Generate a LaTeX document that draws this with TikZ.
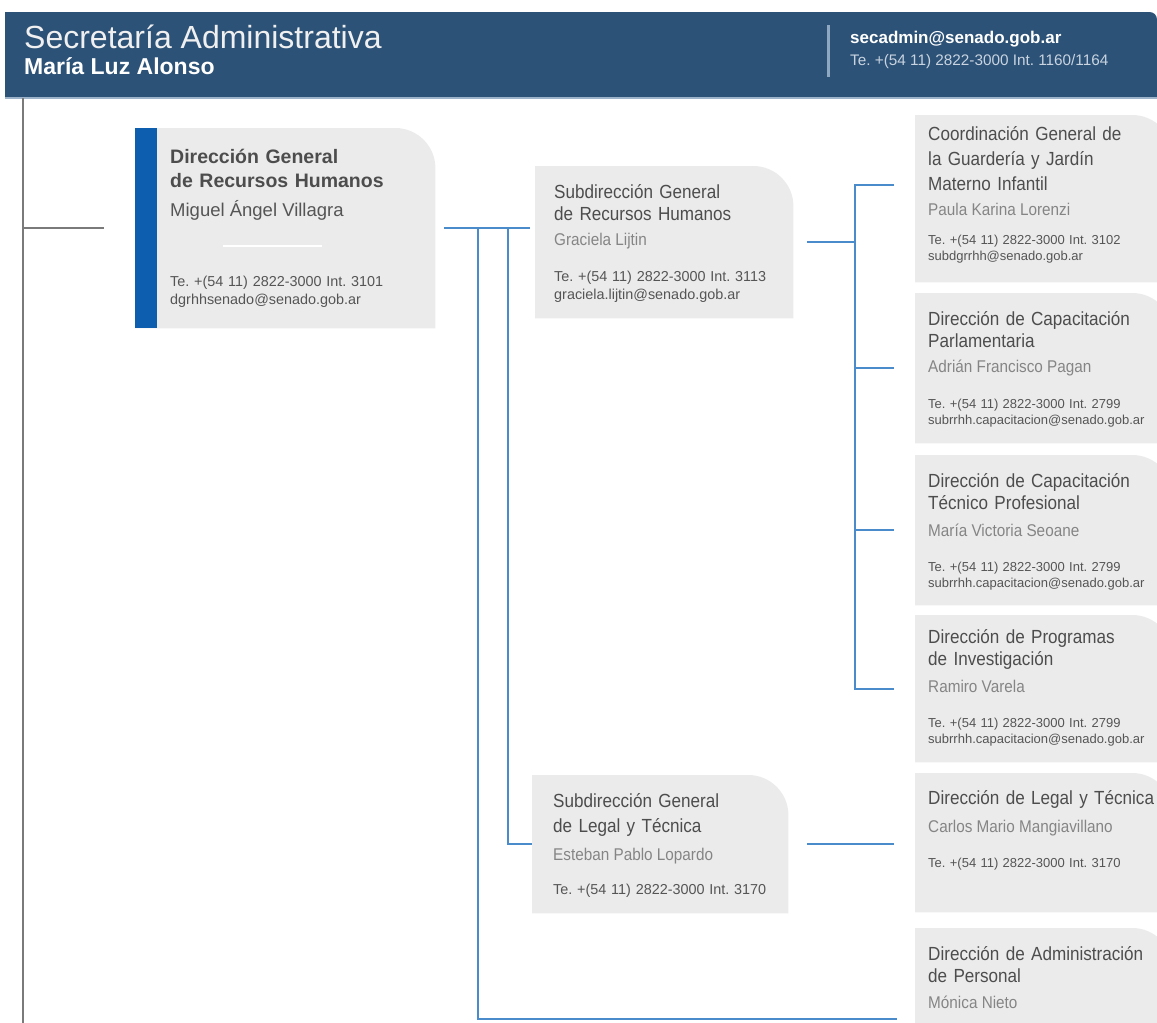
\documentclass[tikz,border=0pt]{standalone}
\usepackage{fontspec}
\setmainfont{Liberation Sans}
\newfontfamily\narrowfont[FakeStretch=0.9]{Liberation Sans}
\frenchspacing
\usetikzlibrary{backgrounds}
\definecolor{headblue}{HTML}{2D5277}
\definecolor{headline}{HTML}{9DB3CA}
\definecolor{headtext}{HTML}{C9D4E0}
\definecolor{sepline}{HTML}{8FA8C2}
\definecolor{cardgray}{HTML}{EBEBEB}
\definecolor{linkblue}{HTML}{4A8CCB}
\definecolor{barblue}{HTML}{0D5EAF}
\definecolor{titlegray}{HTML}{4D4D4D}
\definecolor{namegray}{HTML}{858585}
\definecolor{infogray}{HTML}{555555}
\definecolor{treegray}{HTML}{7A7A7A}
\tikzset{%
    card/.style={rectangle,inner sep=0pt,anchor=north west},
    ttl/.style={anchor=base west,inner sep=0pt,text width=250pt,align=left,text=titlegray,font=\narrowfont\fontsize{19}{22}\selectfont},
    pname/.style={anchor=base west,inner sep=0pt,text=namegray,font=\narrowfont\fontsize{17}{20}\selectfont},
    info/.style={anchor=base west,inner sep=0pt,text width=300pt,align=left,text=infogray,font=\fontsize{14.4}{18}\selectfont},
    infosm/.style={info,font=\fontsize{13}{16}\selectfont},
    head/.style={anchor=base west,inner sep=0pt,text=white},
    link/.style={draw=linkblue,line width=2pt},
    tree/.style={draw=treegray,line width=1.5pt}
}

\begin{document}
\begin{tikzpicture}[x=1pt,y=-1pt]
    \useasboundingbox (0,0) rectangle (1157,1023);

    % header
    \fill[headblue] (5,98) -- (5,12) -- (1149,12) .. controls (1154,12) and (1157,15) .. (1157,20) -- (1157,98) -- cycle;
    \fill[headline] (5,96.5) rectangle (1157,99);
    \draw[sepline,line width=3pt] (828,25) -- (828,77);
    \node[head,text=white!94!black,font=\fontsize{32}{32}\selectfont] (sec) at (24,48) {Secretaría Administrativa};
    \node[head,font=\bfseries\fontsize{23}{23}\selectfont] (secboss) at (24,74) {María Luz Alonso};
    \node[head,font=\bfseries\fontsize{17}{17}\selectfont] (secmail) at (850,43) {secadmin@senado.gob.ar};
    \node[head,text=headtext,font=\fontsize{15.3}{15.3}\selectfont] (sectel) at (850,65) {Te. +(54 11) 2822-3000 Int. 1160/1164};

    % cards
    \node[card,minimum width=300pt,minimum height=200pt] (dgrh) at (135,128){};
    \node[card,minimum width=258pt,minimum height=152pt] (subrh) at (535,166){};
    \node[card,minimum width=256pt,minimum height=138pt] (sublegal) at (532,775){};
    \node[card,minimum width=257pt,minimum height=167pt] (guarderia) at (915,115){};
    \node[card,minimum width=257pt,minimum height=150pt] (capparl) at (915,293){};
    \node[card,minimum width=257pt,minimum height=150pt] (captec) at (915,455){};
    \node[card,minimum width=257pt,minimum height=147pt] (investig) at (915,615){};
    \node[card,minimum width=257pt,minimum height=139pt] (legal) at (915,773){};
    \node[card,minimum width=257pt,minimum height=182pt] (personal) at (915,928){};

    \begin{scope}[on background layer]
        \foreach \c in {dgrh,subrh,sublegal,guarderia,capparl,captec,investig,legal,personal}
            \fill[cardgray] (\c.south west) -- (\c.north west) -- ([xshift=-40pt]\c.north east) .. controls ([xshift=-18pt]\c.north east) and ([yshift=-18pt]\c.north east) .. ([yshift=-40pt]\c.north east) -- (\c.south east) -- cycle;
        \fill[barblue] (dgrh.north west) rectangle ([xshift=22pt]dgrh.south west);
    \end{scope}

    % texts
    \node[ttl,font=\bfseries\fontsize{19.5}{24}\selectfont] (dgrht) at (170,163) {Dirección General\\ de Recursos Humanos};
    \node[pname,text=infogray,font=\fontsize{18.5}{20}\selectfont] (dgrhn) at (170,216) {Miguel Ángel Villagra};
    \draw[white,line width=2.5pt] (223,246) -- (322,246);
    \node[info] (dgrhi) at (170,286) {Te. +(54 11) 2822-3000 Int. 3101\\ dgrhhsenado@senado.gob.ar};

    \node[ttl] (subrht) at (554,198) {Subdirección General\\ de Recursos Humanos};
    \node[pname] (subrhn) at (554,245) {Graciela Lijtin};
    \node[info] (subrhi) at (554,281) {Te. +(54 11) 2822-3000 Int. 3113\\ graciela.lijtin@senado.gob.ar};

    \node[ttl,font=\narrowfont\fontsize{19}{25.5}\selectfont] (sublegalt) at (553,807) {Subdirección General\\ de Legal y Técnica};
    \node[pname] (sublegaln) at (553,860) {Esteban Pablo Lopardo};
    \node[info] (sublegali) at (553,894) {Te. +(54 11) 2822-3000 Int. 3170};

    \node[ttl,font=\narrowfont\fontsize{19}{25}\selectfont] (guarderiat) at (928,140) {Coordinación General de\\ la Guardería y Jardín\\ Materno Infantil};
    \node[pname] (guarderian) at (928,215) {Paula Karina Lorenzi};
    \node[infosm] (guarderiai) at (928,244) {Te. +(54 11) 2822-3000 Int. 3102\\ subdgrrhh@senado.gob.ar};

    \node[ttl] (capparlt) at (928,325) {Dirección de Capacitación\\ Parlamentaria};
    \node[pname] (capparln) at (928,372) {Adrián Francisco Pagan};
    \node[infosm] (capparli) at (928,408) {Te. +(54 11) 2822-3000 Int. 2799\\ subrrhh.capacitacion@senado.gob.ar};

    \node[ttl] (captect) at (928,487) {Dirección de Capacitación\\ Técnico Profesional};
    \node[pname] (captecn) at (928,536) {María Victoria Seoane};
    \node[infosm] (capteci) at (928,571) {Te. +(54 11) 2822-3000 Int. 2799\\ subrrhh.capacitacion@senado.gob.ar};

    \node[ttl] (investigt) at (928,643) {Dirección de Programas\\ de Investigación};
    \node[pname] (investign) at (928,692) {Ramiro Varela};
    \node[infosm] (investigi) at (928,727) {Te. +(54 11) 2822-3000 Int. 2799\\ subrrhh.capacitacion@senado.gob.ar};

    \node[ttl] (legalt) at (928,804) {Dirección de Legal y Técnica};
    \node[pname] (legaln) at (928,832) {Carlos Mario Mangiavillano};
    \node[infosm] (legali) at (928,867) {Te. +(54 11) 2822-3000 Int. 3170};

    \node[ttl] (personalt) at (928,960) {Dirección de Administración\\ de Personal};
    \node[pname] (personaln) at (928,1008) {Mónica Nieto};

    % connectors
    \coordinate (top) at (23,98);
    \coordinate (trunk) at (478,0);
    \coordinate (branch) at (508,0);
    \coordinate (hub) at (855,0);
    \draw[tree] (top) -- (23,1023);
    \draw[tree] (top |- dgrh.west) -- ([xshift=-31pt]dgrh.west);

    \draw[link] ([xshift=9pt]dgrh.east) -- ([xshift=-5pt]subrh.west |- dgrh.east);
    \draw[link] (trunk |- dgrh.east) |- ([xshift=-18pt]personal.west);
    \draw[link] (branch |- dgrh.east) |- (sublegal.west);
    \draw[link] ([xshift=14pt]subrh.east) -- (hub |- subrh.east);
    \draw[link] ([xshift=-21pt,yshift=14pt]guarderia.west) -| (hub |- investig.west) -- ([xshift=-21pt]investig.west);
    \draw[link] (hub |- capparl.west) -- ([xshift=-21pt]capparl.west);
    \draw[link] (hub |- captec.west) -- ([xshift=-21pt]captec.west);
    \draw[link] ([xshift=19pt]sublegal.east) -- ([xshift=-21pt]legal.west |- sublegal.east);
\end{tikzpicture}
\end{document}
